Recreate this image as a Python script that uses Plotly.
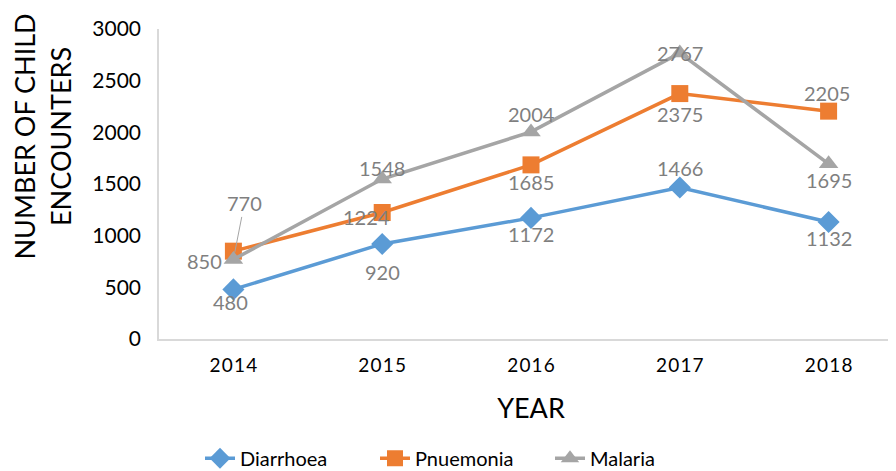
import plotly.graph_objects as go

years = ["2014", "2015", "2016", "2017", "2018"]
diarrhoea = [480, 920, 1172, 1466, 1132]
pnuemonia = [850, 1224, 1685, 2375, 2205]
malaria = [770, 1548, 2004, 2767, 1695]

y_ticks = [0, 500, 1000, 1500, 2000, 2500, 3000]

# label offsets (pixels) per point: (xshift, yshift)
off_d = [(-3, -13), (0, -28), (0, -16), (0, 20), (0, -16)]
off_p = [(-29, -10), (-16, -4), (0, -17), (0, -20), (-2, 18)]
off_m = [None, (0, 11), (0, 18), (0, 0), (0, -16)]

LBL = "#7f7f7f"
FONT = "Lato"

fig = go.Figure()
series = [
    ("Diarrhoea", diarrhoea, "#5B9BD5", "diamond", 17, off_d),
    ("Pnuemonia", pnuemonia, "#ED7D31", "square", 17, off_p),
    ("Malaria", malaria, "#A5A5A5", "triangle-up", 17, off_m),
]
annotations = []
for name, vals, col, sym, size, offs in series:
    fig.add_trace(go.Scatter(
        x=years, y=vals, name=name, mode="lines+markers",
        line=dict(color=col, width=3.5),
        marker=dict(symbol=sym, size=size, color=col),
    ))
    for i, (v, o) in enumerate(zip(vals, offs)):
        if o is None:
            annotations.append(dict(
                x=i, y=v, xref="x", yref="y", text=str(v),
                showarrow=True, arrowhead=0, arrowwidth=1, arrowcolor="#a5a5a5",
                ax=11, ay=-56, standoff=7,
                font=dict(family=FONT, size=20, color=LBL)))
        else:
            annotations.append(dict(
                x=i, y=v, xref="x", yref="y", text=str(v), showarrow=False,
                xshift=o[0], yshift=o[1],
                font=dict(family=FONT, size=20, color=LBL)))

annotations.append(dict(
    xref="paper", yref="paper", x=(34 - 151) / 744, y=(339.5 - 131.5) / 318.5,
    text="NUMBER OF CHILD<br>ENCOUNTERS", textangle=-90, showarrow=False,
    xanchor="center", yanchor="middle",
    font=dict(family=FONT, size=27, color="#000000")))

ticktext = ["\u200a".join(list(y)) for y in years]

fig.update_layout(
    width=896, height=471,
    margin=dict(l=151, r=1, t=21, b=131),
    paper_bgcolor="white", plot_bgcolor="white",
    font=dict(family=FONT, color="#000000"),
    showlegend=True,
    legend=dict(orientation="h", x=(192 - 151) / 744, xanchor="left",
                y=(339.5 - 462) / 318.5, yanchor="middle",
                entrywidth=130, entrywidthmode="pixels",
                font=dict(family=FONT, size=20, color="#000000")),
    annotations=annotations,
    xaxis=dict(type="category", range=[-0.5, 4.5],
               tickvals=years, ticktext=ticktext,
               tickfont=dict(family=FONT, size=19, color="#000000"),
               showline=True, linecolor="#d9d9d9", linewidth=1.5,
               showgrid=False, zeroline=False,
               ticks="outside", ticklen=8, tickcolor="rgba(0,0,0,0)",
               title=dict(text="YEAR", font=dict(family=FONT, size=27, color="#000000"),
                          standoff=25)),
    yaxis=dict(range=[0, 3000], tickvals=y_ticks,
               tickfont=dict(family=FONT, size=21, color="#000000"),
               showline=True, linecolor="#d9d9d9", linewidth=1.5,
               showgrid=False, zeroline=False,
               ticks="outside", ticklen=12, tickcolor="rgba(0,0,0,0)"),
)

fig.write_html("out.html")
